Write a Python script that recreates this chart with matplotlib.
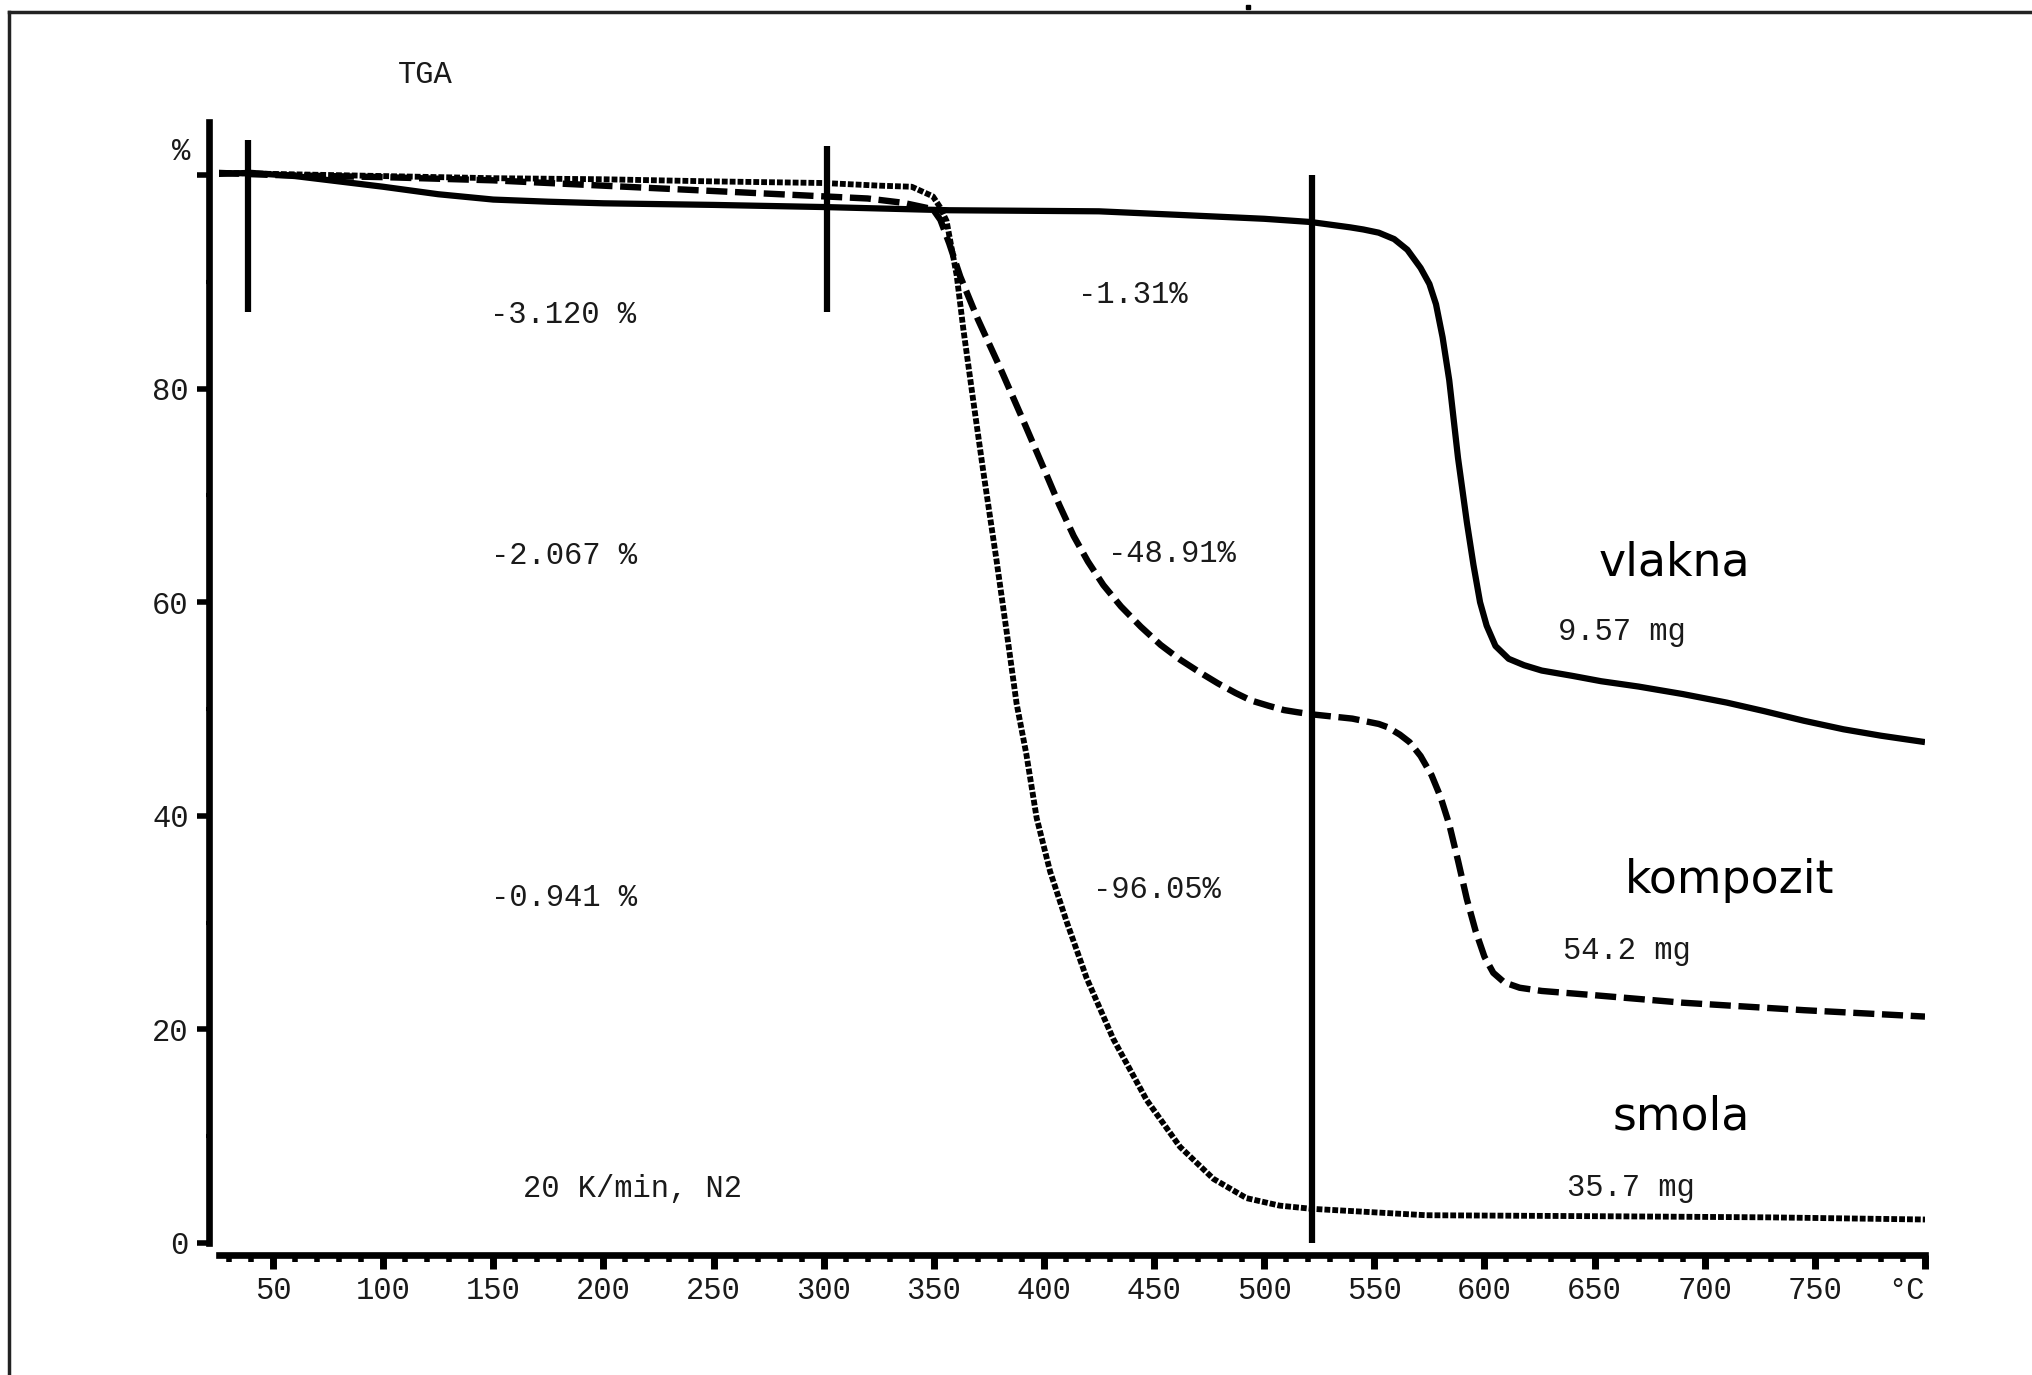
import matplotlib.pyplot as plt
from matplotlib.lines import Line2D

# TGA curves: temperature (°C) and remaining mass (%)
vlakna_t = [25, 40, 60, 80, 100, 125, 150, 175, 200, 250, 300, 357, 425, 463, 500, 521, 539,
            545, 552, 559, 565, 571, 575, 578, 581, 584, 588, 592, 595, 598, 601, 605, 611, 618,
            626, 640, 653, 670, 690, 710, 727, 745, 763, 780, 800]
vlakna_m = [100.1, 100.2, 99.9, 99.4, 98.9, 98.2, 97.7, 97.5, 97.35, 97.2, 97.0, 96.7, 96.6, 96.25,
            95.9, 95.6, 95.1, 94.9, 94.6, 94.0, 93.0, 91.3, 89.8, 87.9, 84.8, 80.8, 73.5, 67.5,
            63.5, 60.0, 57.8, 55.9, 54.7, 54.1, 53.6, 53.1, 52.6, 52.1, 51.4, 50.6, 49.8, 48.9,
            48.1, 47.5, 46.9]

kompozit_t = [25, 50, 100, 150, 200, 250, 300, 320, 336, 349.6, 353, 357, 362, 370, 380, 390,
              400, 407, 413.5, 420, 427, 435, 444, 453, 462, 471, 479, 487, 494, 502, 509, 515,
              521.6, 540, 552, 556, 561.6, 566, 571, 576, 580, 584, 588, 592, 596, 600, 604, 609,
              616, 626, 650, 690, 745, 800]
kompozit_m = [100.2, 100.0, 99.8, 99.5, 99.0, 98.5, 98.0, 97.8, 97.4, 96.8, 95.8, 93.6, 90.5,
              86.5, 82.0, 77.3, 72.5, 69.1, 66.2, 63.8, 61.6, 59.6, 57.7, 56.0, 54.6, 53.4, 52.4,
              51.5, 50.8, 50.3, 49.9, 49.7, 49.5, 49.1, 48.6, 48.3, 47.6, 46.9, 45.6, 43.8, 41.8,
              39.2, 35.8, 32.2, 29.2, 26.8, 25.3, 24.4, 23.9, 23.6, 23.2, 22.5, 21.8, 21.2]

smola_t = [25, 50, 100, 150, 200, 250, 300, 325.6, 340, 349.6, 352.8, 355.8, 360.4, 363.4, 367.9,
           372.5, 378.5, 383.1, 387.6, 392, 396.7, 402.8, 410.3, 419.4, 431.5, 446.6, 461.8, 477,
           492, 507, 521.6, 573.5, 658.8, 730, 800]
smola_m = [100.2, 100.1, 99.9, 99.7, 99.6, 99.4, 99.25, 99.0, 98.9, 98.0, 97.0, 95.7, 90.6, 85.6,
           78.9, 72.2, 63.9, 57.2, 50.5, 45.8, 39.8, 34.8, 30.1, 24.8, 19.1, 13.4, 9.0, 6.0, 4.2,
           3.5, 3.2, 2.6, 2.5, 2.4, 2.2]

x_ticks = [50, 100, 150, 200, 250, 300, 350, 400, 450, 500, 550, 600, 650, 700, 750, 800]
x_labels = ['50', '100', '150', '200', '250', '300', '350', '400', '450', '500', '550', '600',
            '650', '700', '750', '°C']
x_minor = list(range(30, 800, 10))
y_ticks = [0, 20, 40, 60, 80, 100]
y_labels = ['0', '20', '40', '60', '80', '']
y_minor = [10, 30, 50, 70, 90]

# evaluation limits (vertical bars)
marker_t = [38.7, 301.3, 521.6]
marker_lo = [87.2, 87.2, 0.0]
marker_hi = [103.3, 102.7, 100.0]

step_labels = ['-3.120 %', '-2.067 %', '-0.941 %', '-1.31%', '-48.91%', '-96.05%']
mass_labels = ['9.57 mg', '54.2 mg', '35.7 mg']
sample_names = ['vlakna', 'kompozit', 'smola']

mono = 'Liberation Mono'
fs = 22
tc = '#1a1a1a'

fig = plt.figure(figsize=(20.33, 13.75), dpi=100)
ax = fig.add_axes([219 / 2033, 132 / 1375, 1706 / 2033, 1121.4 / 1375])
ax.set_xlim(25.5, 800)
ax.set_ylim(0, 105)

ax.plot(vlakna_t, vlakna_m, color='black', lw=4.5, solid_capstyle='butt')
ax.plot(kompozit_t, kompozit_m, color='black', lw=4.6, dashes=(3.3, 1.2), dash_capstyle='butt')
ax.plot(smola_t, smola_m, color='black', lw=4.2, dashes=(1.0, 0.35), dash_capstyle='butt')
ax.vlines(marker_t, marker_lo, marker_hi, color='black', lw=4.5, clip_on=False)

# axes look
for s in ['top', 'right']:
    ax.spines[s].set_visible(False)
ax.spines['left'].set_position(('outward', 7.2))
ax.spines['bottom'].set_position(('outward', 8.6))
ax.spines['left'].set_linewidth(4.8)
ax.spines['bottom'].set_linewidth(4.8)

ax.set_xticks(x_ticks, labels=x_labels)
ax.set_xticks(x_minor, minor=True)
ax.set_yticks(y_ticks, labels=y_labels)
ax.set_yticks(y_minor, minor=True)
ax.tick_params(axis='x', which='major', length=10, width=5, pad=5, labelsize=fs, labelcolor=tc)
ax.tick_params(axis='x', which='minor', length=5, width=4)
ax.tick_params(axis='y', which='major', length=8.6, width=4, pad=6, labelsize=fs, labelcolor=tc)
ax.tick_params(axis='y', which='minor', length=2, width=3)
for lab in ax.get_xticklabels() + ax.get_yticklabels():
    lab.set_family(mono)
ax.get_xticklabels()[-1].set_ha('right')

# texts from the instrument printout
ax.text(119, 108.6, 'TGA', ha='center', va='baseline', fontsize=fs, family=mono, color=tc)
ax.text(8.2, 101.4, '%', ha='center', va='baseline', fontsize=fs, family=mono, color=tc)
step_pos = [(181.5, 86.1), (182, 63.6), (182, 31.6), (440.4, 88.0), (458.1, 63.8), (451.3, 32.3)]
for lab, (x, y) in zip(step_labels, step_pos):
    ax.text(x, y, lab, ha='center', va='baseline', fontsize=fs, family=mono, color=tc)
mass_pos = [(662.4, 56.5), (664.5, 26.6), (666.5, 4.4)]
for lab, (x, y) in zip(mass_labels, mass_pos):
    ax.text(x, y, lab, ha='center', va='baseline', fontsize=fs, family=mono, color=tc)
ax.text(213.4, 4.3, '20 K/min, N2', ha='center', va='baseline', fontsize=fs, family=mono, color=tc)

name_pos = [(686.3, 62.5), (711.3, 32.8), (689.5, 10.6)]
for lab, (x, y) in zip(sample_names, name_pos):
    ax.text(x, y, lab, ha='center', va='baseline', fontsize=33, family='DejaVu Sans')

# outer frame (left and top edges only) and the small speck on the top edge
fig.add_artist(Line2D([8.6 / 2033, 8.6 / 2033], [0, 1 - 12 / 1375],
                      transform=fig.transFigure, color='#222222', lw=2.5))
fig.add_artist(Line2D([8.6 / 2033, 1], [1 - 12 / 1375, 1 - 12 / 1375],
                      transform=fig.transFigure, color='#222222', lw=2.5))
fig.add_artist(Line2D([1248 / 2033], [1 - 7 / 1375], transform=fig.transFigure,
                      marker='s', ms=3, color='black', lw=0))

fig.savefig('out.png', dpi=100)
